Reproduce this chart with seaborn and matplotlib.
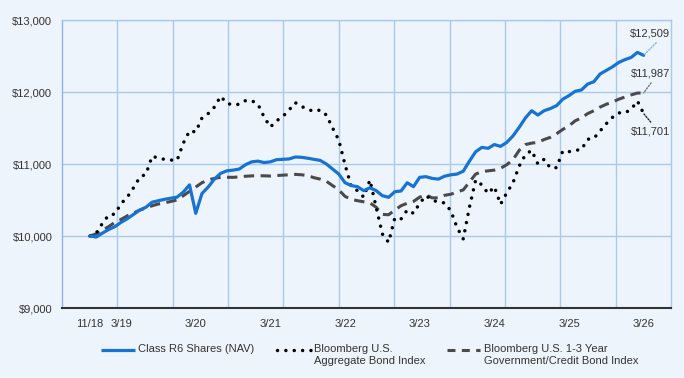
import matplotlib
matplotlib.use("Agg")
import matplotlib.pyplot as plt
import seaborn as sns
import numpy as np
import pandas as pd
from matplotlib.lines import Line2D

# ---------------- data (monthly, starting at inception) ----------------
nav = [10000, 9985, 10040, 10090, 10130, 10190, 10240, 10300, 10360, 10400,
       10470, 10490, 10510, 10525, 10540, 10610, 10710, 10315, 10590, 10680,
       10790, 10870, 10905, 10915, 10930, 10990, 11030, 11040, 11020, 11030,
       11060, 11065, 11070, 11097, 11093, 11080, 11065, 11050, 11000, 10930,
       10860, 10740, 10700, 10685, 10630, 10670, 10630, 10560, 10537, 10615,
       10625, 10740, 10685, 10815, 10824, 10800, 10790, 10830, 10850, 10860,
       10900, 11040, 11170, 11231, 11218, 11270, 11245, 11300, 11390, 11510,
       11640, 11740, 11680, 11740, 11770, 11810, 11900, 11950, 12010, 12028,
       12110, 12143, 12250, 12300, 12350, 12410, 12450, 12480, 12550, 12509]

agg = [10000, 10040, 10176, 10290, 10305, 10450, 10540, 10670, 10815, 10860,
       11110, 11080, 11065, 11055, 11051, 11290, 11460, 11445, 11640, 11700,
       11790, 11940, 11843, 11820, 11830, 11880, 11880, 11830, 11650, 11514,
       11600, 11660, 11750, 11852, 11800, 11760, 11730, 11750, 11680, 11500,
       11330, 10990, 10690, 10630, 10540, 10778, 10400, 10028, 9912, 10250,
       10236, 10361, 10315, 10455, 10560, 10500, 10470, 10460, 10350, 10120,
       9960, 10400, 10778, 10710, 10590, 10685, 10440, 10600, 10740, 10972,
       11130, 11190, 11000, 11065, 10945, 10949, 11180, 11171, 11190, 11200,
       11343, 11357, 11458, 11560, 11648, 11710, 11710, 11760, 11875, 11701]

gov = [10000, 10030, 10080, 10130, 10190, 10230, 10280, 10320, 10360, 10390,
       10420, 10445, 10460, 10480, 10500, 10560, 10620, 10680, 10740, 10780,
       10800, 10815, 10815, 10815, 10820, 10830, 10835, 10838, 10836, 10833,
       10840, 10845, 10850, 10856, 10850, 10840, 10810, 10790, 10760, 10700,
       10640, 10550, 10510, 10490, 10475, 10460, 10400, 10300, 10295, 10360,
       10420, 10455, 10480, 10540, 10570, 10530, 10530, 10565, 10580, 10610,
       10640, 10750, 10860, 10895, 10905, 10915, 10940, 10990, 11060, 11190,
       11270, 11290, 11300, 11340, 11370, 11420, 11480, 11530, 11600, 11640,
       11700, 11740, 11790, 11830, 11860, 11900, 11930, 11960, 11985, 11987]

tick_months = [0, 5, 17, 29, 41, 53, 65, 77, 89]
tick_labels = ["11/18", "3/19", "3/20", "3/21", "3/22", "3/23", "3/24", "3/25", "3/26"]
y_ticks = [9000, 10000, 11000, 12000, 13000]
y_labels = ["$9,000", "$10,000", "$11,000", "$12,000", "$13,000"]
end_labels = ["$12,509", "$11,987", "$11,701"]
series_names = ["Class R6 Shares (NAV)",
                "Bloomberg U.S.\nAggregate Bond Index",
                "Bloomberg U.S. 1-3 Year\nGovernment/Credit Bond Index"]

# ---------------- style ----------------
BG = "#eef4fb"
GRID = "#a9c9f2"
BLUE = "#1673d3"
GRAY = "#4a4a4a"
TXT = "#333333"

plt.rcParams["font.family"] = ["Liberation Sans", "DejaVu Sans"]

W, H = 684, 378
fig = plt.figure(figsize=(W / 100, H / 100), dpi=100, facecolor=BG)
ax = fig.add_axes([62 / W, 70 / H, 609 / W, 288 / H])
ax.set_facecolor(BG)

months = np.arange(len(nav))
df = pd.DataFrame({"month": months, "nav": nav, "agg": agg, "gov": gov})

dash_style = (0, (3.4, 2.1))
dot_style = (0, (0.01, 2.4))

sns.lineplot(data=df, x="month", y="gov", ax=ax, color=GRAY, linewidth=2.2,
             linestyle=dash_style, zorder=3)
sns.lineplot(data=df, x="month", y="agg", ax=ax, color="black", linewidth=2.5,
             linestyle=dot_style, dash_capstyle="round", zorder=4)
sns.lineplot(data=df, x="month", y="nav", ax=ax, color=BLUE, linewidth=2.3,
             solid_capstyle="round", zorder=5)

xmin, xmax = -4.5, 93.4
ax.set_xlim(xmin, xmax)
ax.set_ylim(9000, 13000)
ax.set_xlabel("")
ax.set_ylabel("")

ax.set_yticks(y_ticks)
ax.set_yticklabels(y_labels)
ax.set_xticks(tick_months)
ax.set_xticklabels(tick_labels)
ax.set_xticks(np.linspace(xmin, xmax, 12)[1:-1], minor=True)

ax.grid(False)
ax.grid(which="major", axis="y", color=GRID, linewidth=1)
ax.grid(which="minor", axis="x", color=GRID, linewidth=1)
ax.set_axisbelow(True)

ax.tick_params(axis="both", which="both", length=0, labelsize=8, labelcolor=TXT)
ax.tick_params(axis="y", pad=7)
ax.tick_params(axis="x", pad=8)

for s in ["left", "top", "right"]:
    ax.spines[s].set_color(GRID)
    ax.spines[s].set_linewidth(1)
ax.spines["left"].set_color("#8ab4f0")
ax.spines["bottom"].set_color(TXT)
ax.spines["bottom"].set_linewidth(1.5)

# ---------------- end value labels ----------------
last = len(nav) - 1
ends = [(nav[last], end_labels[0], H - 34, "#7fb2ee", (0.75, 0.0)),
        (gov[last], end_labels[1], H - 74, "#777777", (0.6, 0.0)),
        (agg[last], end_labels[2], H - 131, "#222222", (0.6, 1.0))]
for val, lab, ypix, col, rp in ends:
    ax.annotate(lab, xy=(last, val), xycoords="data",
                xytext=(650, ypix), textcoords="figure pixels",
                ha="center", va="center", fontsize=8, color=TXT,
                arrowprops=dict(arrowstyle="-", color=col, linestyle=(0, (1, 1.2)),
                                linewidth=1, shrinkA=1, shrinkB=0, relpos=rp),
                zorder=6)

# ---------------- legend ----------------
def fx(px):
    return px / W

def fy(py):
    return 1 - py / H

handles = [
    dict(x0=101, x1=135, color=BLUE, lw=2.3, ls="-", cap="butt"),
    dict(x0=277, x1=311, color="black", lw=2.5, ls=dot_style, cap="round"),
    dict(x0=447, x1=480, color=GRAY, lw=2.2, ls=(0, (2.6, 2.1)), cap="butt"),
]
text_x = [137.5, 313.5, 484]
for h, tx, name in zip(handles, text_x, series_names):
    ln = Line2D([fx(h["x0"]), fx(h["x1"])], [fy(350), fy(350)],
                transform=fig.transFigure, color=h["color"], linewidth=h["lw"],
                linestyle=h["ls"], dash_capstyle=h["cap"], solid_capstyle="butt")
    fig.add_artist(ln)
    fig.text(fx(tx), fy(343.5), name, ha="left", va="top", fontsize=8,
             color=TXT, linespacing=1.35)

fig.savefig("out.png", dpi=100, facecolor=BG)
